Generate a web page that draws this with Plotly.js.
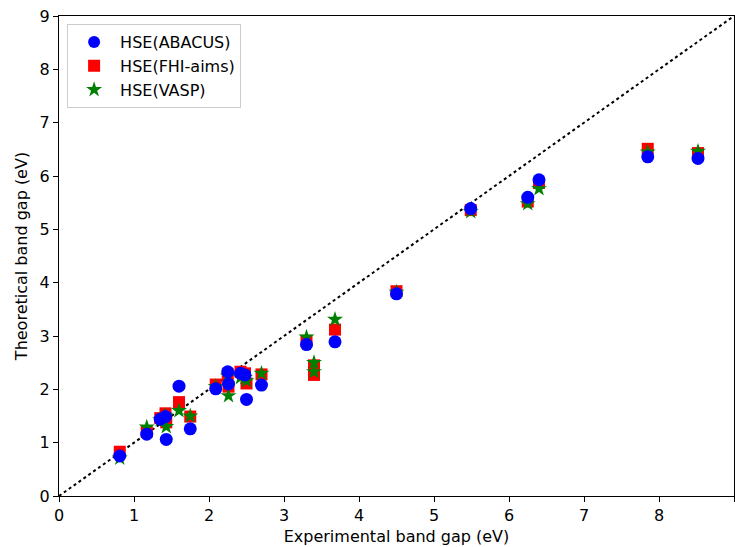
<!DOCTYPE html>
<html>
<head>
<meta charset="utf-8">
<script src="https://cdn.plot.ly/plotly-3.0.1.min.js"></script>
<style>
  html, body { margin: 0; padding: 0; background: #fff; }
  #chart { width: 735px; height: 547px; }
</style>
</head>
<body>
<div id="chart"></div>
<script>
// Experimental band gaps (eV), shared by all three methods
const expGap = [0.81, 1.17, 1.35, 1.42, 1.43, 1.60, 1.75, 2.09, 2.25, 2.26, 2.42, 2.48, 2.50, 2.70, 3.30, 3.40, 3.40, 3.68, 4.50, 5.49, 6.25, 6.40, 7.85, 8.52];
// Theoretical HSE band gaps (eV) per code
const hseAbacus = [0.75, 1.16, 1.44, 1.49, 1.06, 2.06, 1.26, 2.01, 2.33, 2.10, 2.30, 2.27, 1.81, 2.08, 2.84, null, null, 2.89, 3.79, 5.39, 5.60, 5.93, 6.36, 6.33];
const hseFhiAims = [0.83, 1.21, 1.46, 1.55, 1.38, 1.76, 1.49, 2.09, 2.28, 2.05, 2.33, 2.30, 2.11, 2.28, 2.91, 2.45, 2.27, 3.12, 3.84, 5.36, 5.52, 5.87, 6.51, 6.43];
const hseVasp   = [0.71, 1.29, 1.43, 1.51, 1.30, 1.60, 1.50, 2.05, 2.25, 1.88, 2.22, 2.22, 2.16, 2.30, 2.98, 2.50, 2.33, 3.31, 3.82, 5.33, 5.48, 5.76, 6.45, 6.46];
const seriesNames = ['HSE(ABACUS)', 'HSE(FHI-aims)', 'HSE(VASP)'];
const diagonal = [0, 9];

const font = { family: 'DejaVu Sans, sans-serif', size: 16, color: '#000' };

const traces = [
  {
    x: diagonal, y: diagonal, mode: 'lines', showlegend: false, hoverinfo: 'skip',
    line: { color: '#000', width: 2, dash: 'dot' }
  },
  {
    x: expGap, y: hseFhiAims, mode: 'markers', name: seriesNames[1],
    legendrank: 2, legendgroup: 'b',
    marker: { symbol: 'square', size: 12, color: '#ff0000' }
  },
  {
    x: expGap, y: hseVasp, mode: 'markers', name: seriesNames[2],
    legendrank: 3, legendgroup: 'c',
    marker: { symbol: 'star', size: 12, color: '#008000' }
  },
  {
    x: expGap, y: hseAbacus, mode: 'markers', name: seriesNames[0],
    legendrank: 1, legendgroup: 'a',
    marker: { symbol: 'circle', size: 13, color: '#0000ff' }
  }
];

const axisCommon = {
  range: [0, 9], dtick: 1, tick0: 0,
  showgrid: false, zeroline: false,
  showline: true, linecolor: '#000', linewidth: 1, mirror: true,
  ticks: 'outside', ticklen: 5, tickwidth: 1, tickcolor: '#000',
  tickfont: font
};

const layout = {
  width: 735, height: 547,
  margin: { l: 59, r: 1, t: 16, b: 51 },
  paper_bgcolor: '#fff', plot_bgcolor: '#fff',
  font: font,
  xaxis: Object.assign({}, axisCommon, {
    title: { text: 'Experimental band gap (eV)', font: font, standoff: 6 }
  }),
  yaxis: Object.assign({}, axisCommon, {
    title: { text: 'Theoretical band gap (eV)', font: font, standoff: 8 }
  }),
  legend: {
    x: 0.012, y: 0.983, xanchor: 'left', yanchor: 'top',
    bgcolor: '#fff', bordercolor: '#cccccc', borderwidth: 1,
    font: font, tracegroupgap: 0, itemsizing: 'constant', itemwidth: 42
  },
  showlegend: true
};

Plotly.newPlot('chart', traces, layout, { displayModeBar: false, staticPlot: true });
</script>
</body>
</html>
